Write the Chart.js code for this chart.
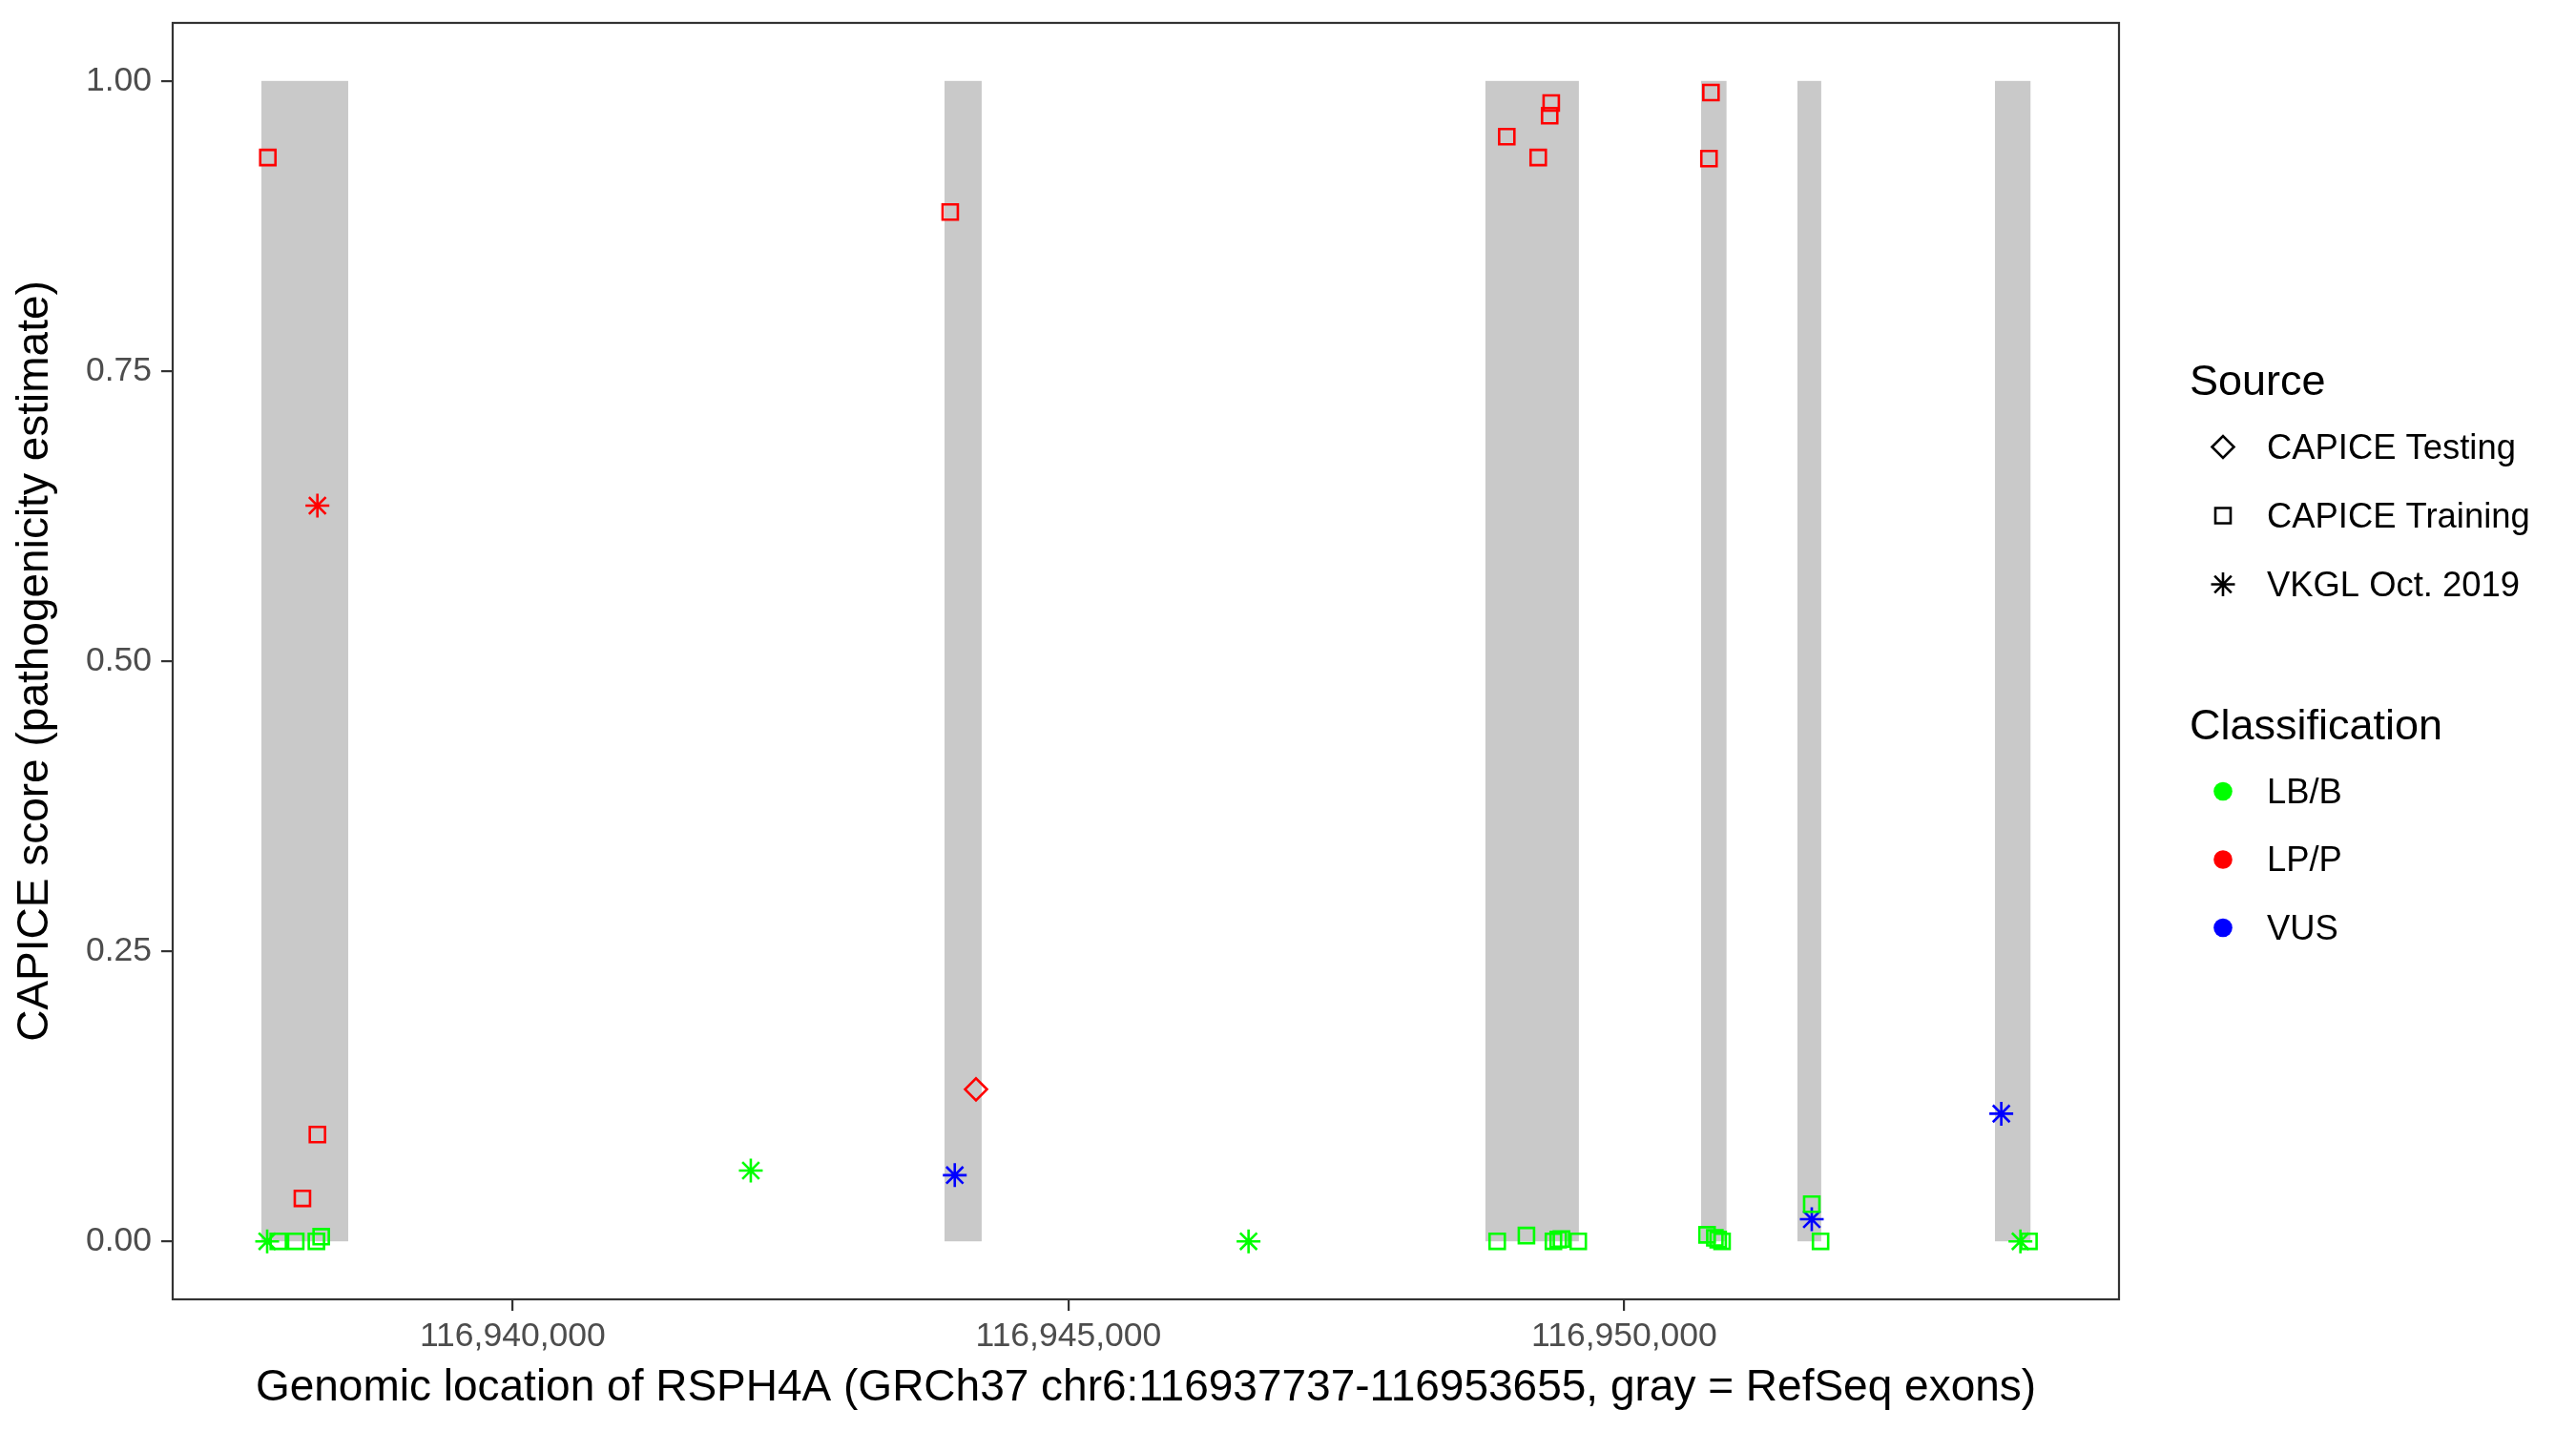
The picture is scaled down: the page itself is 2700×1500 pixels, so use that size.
<!DOCTYPE html>
<html><head><meta charset="utf-8">
<script src="https://cdn.jsdelivr.net/npm/chart.js@4.4.1/dist/chart.umd.min.js"></script>
<style>html,body{margin:0;padding:0;background:#fff;} #c{display:block;}</style>
</head><body>
<canvas id="c" width="2700" height="1500"></canvas>
<script>
// ---------------- data ----------------
const exonStart = [116937739, 116943885, 116948751, 116950691, 116951558, 116953335];
const exonEnd   = [116938520, 116944219, 116949592, 116950920, 116951772, 116953655];

const xTickValues = [116940000, 116945000, 116950000];
const yTickValues = [0, 0.25, 0.5, 0.75, 1];

const sourceNames = ['CAPICE Testing', 'CAPICE Training', 'VKGL Oct. 2019'];
const classNames = ['LB/B', 'LP/P', 'VUS'];

// CAPICE Training, LP/P
const trainLPPos   = [116937797, 116938243, 116938108, 116943936, 116949343, 116949329, 116948943, 116949226, 116950780, 116950762];
const trainLPScore = [0.934, 0.092, 0.037, 0.887, 0.981, 0.970, 0.952, 0.934, 0.990, 0.933];
// CAPICE Training, LB/B
const trainLBPos   = [116937891, 116938048, 116938234, 116938277, 116948857, 116949120, 116949363, 116949406, 116949435, 116949586, 116950745, 116950815, 116950845, 116950880, 116951687, 116951766, 116953641];
const trainLBScore = [0.000, 0.000, 0.000, 0.004, 0.000, 0.005, 0.000, 0.0015, 0.002, 0.000, 0.0056, 0.003, 0.0015, 0.000, 0.032, 0.000, 0.000];
// CAPICE Testing, LP/P
const testLPPos   = [116944168];
const testLPScore = [0.131];
// VKGL, LP/P
const vkglLPPos   = [116938243];
const vkglLPScore = [0.634];
// VKGL, LB/B
const vkglLBPos   = [116937791, 116942142, 116946620, 116953564];
const vkglLBScore = [0.000, 0.061, 0.000, 0.000];
// VKGL, VUS
const vkglVUSPos   = [116943977, 116951687, 116953392];
const vkglVUSScore = [0.057, 0.019, 0.110];

// ---------------- styles ----------------
const classColor = {'LB/B': '#00FF00', 'LP/P': '#FF0000', 'VUS': '#0000FF'};
const sourceShape = {'CAPICE Testing': 'rectRot', 'CAPICE Training': 'rect', 'VKGL Oct. 2019': 'star'};
const shapeRadius = {'rectRot': 11.5, 'rect': 11.3, 'star': 12.5};
const FONT = '"Liberation Sans", Arial, Helvetica, sans-serif';

function toPts(xs, ys) { return xs.map((x, i) => ({x: x, y: ys[i]})); }
function mkDataset(source, cls, xs, ys) {
  const shape = sourceShape[source];
  return {
    label: source + ' / ' + cls,
    data: toPts(xs, ys),
    pointStyle: shape,
    pointRadius: shapeRadius[shape],
    pointHoverRadius: shapeRadius[shape],
    pointBorderWidth: 2.6,
    pointBorderColor: classColor[cls],
    pointBackgroundColor: 'rgba(0,0,0,0)',
    showLine: false
  };
}

const datasets = [
  mkDataset('CAPICE Training', 'LP/P', trainLPPos, trainLPScore),
  mkDataset('CAPICE Training', 'LB/B', trainLBPos, trainLBScore),
  mkDataset('CAPICE Testing', 'LP/P', testLPPos, testLPScore),
  mkDataset('VKGL Oct. 2019', 'LP/P', vkglLPPos, vkglLPScore),
  mkDataset('VKGL Oct. 2019', 'LB/B', vkglLBPos, vkglLBScore),
  mkDataset('VKGL Oct. 2019', 'VUS', vkglVUSPos, vkglVUSScore)
];

// ---------------- plugins ----------------
const exonPlugin = {
  id: 'exons',
  beforeDatasetsDraw(chart) {
    const {ctx, scales: {x, y}} = chart;
    ctx.save();
    ctx.fillStyle = '#C9C9C9';
    const yTop = y.getPixelForValue(1), yBot = y.getPixelForValue(0);
    for (let i = 0; i < exonStart.length; i++) {
      const x1 = x.getPixelForValue(exonStart[i]);
      const x2 = x.getPixelForValue(exonEnd[i]);
      ctx.fillRect(x1, yTop, x2 - x1, yBot - yTop);
    }
    ctx.restore();
  }
};

function drawShape(ctx, shape, cx, cy, r) {
  ctx.beginPath();
  if (shape === 'rect') {
    const s = Math.SQRT1_2 * r;
    ctx.rect(cx - s, cy - s, 2 * s, 2 * s);
  } else if (shape === 'rectRot') {
    ctx.moveTo(cx - r, cy); ctx.lineTo(cx, cy - r); ctx.lineTo(cx + r, cy); ctx.lineTo(cx, cy + r); ctx.closePath();
  } else if (shape === 'star') {
    const d = Math.SQRT1_2 * r;
    ctx.moveTo(cx - r, cy); ctx.lineTo(cx + r, cy);
    ctx.moveTo(cx, cy - r); ctx.lineTo(cx, cy + r);
    ctx.moveTo(cx - d, cy - d); ctx.lineTo(cx + d, cy + d);
    ctx.moveTo(cx - d, cy + d); ctx.lineTo(cx + d, cy - d);
  }
  ctx.stroke();
}

const frameLegendPlugin = {
  id: 'frameLegend',
  afterDatasetsDraw(chart) {
    const {ctx, chartArea: a} = chart;
    ctx.save();
    ctx.strokeStyle = '#333333';
    ctx.lineWidth = 2.2;
    ctx.strokeRect(a.left, a.top, a.right - a.left, a.bottom - a.top);
    ctx.restore();
  },
  afterDraw(chart) {
    const ctx = chart.ctx;
    ctx.save();
    const titleX = 2295, keyX = 2330, textX = 2376;
    ctx.textBaseline = 'middle';
    ctx.textAlign = 'left';
    ctx.fillStyle = '#000';
    ctx.font = '45px ' + FONT;
    ctx.fillText('Source', titleX, 402);
    ctx.fillText('Classification', titleX, 763);
    ctx.font = '36.4px ' + FONT;
    const srcY = [468.5, 540.5, 612.5];
    sourceNames.forEach((s, i) => {
      ctx.strokeStyle = '#000';
      ctx.lineWidth = 2.6;
      drawShape(ctx, sourceShape[s], keyX, srcY[i], shapeRadius[sourceShape[s]]);
      ctx.fillStyle = '#000';
      ctx.fillText(s, textX, srcY[i] + 2);
    });
    const clsY = [829.5, 901, 972.5];
    classNames.forEach((c, i) => {
      ctx.fillStyle = classColor[c];
      ctx.beginPath();
      ctx.arc(keyX, clsY[i], 9.8, 0, Math.PI * 2);
      ctx.fill();
      ctx.fillStyle = '#000';
      ctx.fillText(c, textX, clsY[i] + 2);
    });
    ctx.restore();
  }
};

// ---------------- chart ----------------
new Chart(document.getElementById('c'), {
  type: 'scatter',
  data: {datasets: datasets},
  plugins: [exonPlugin, frameLegendPlugin],
  options: {
    responsive: false,
    animation: false,
    devicePixelRatio: 1,
    layout: {padding: {left: 0, top: 24, right: 479, bottom: 0}},
    plugins: {legend: {display: false}, tooltip: {enabled: false}},
    scales: {
      x: {
        type: 'linear',
        min: 116936941,
        max: 116954451,
        afterBuildTicks(scale) { scale.ticks = xTickValues.map(v => ({value: v})); },
        afterFit(scale) { scale.height = 138; scale.paddingLeft = 0; scale.paddingRight = 0; },
        grid: {drawOnChartArea: false, drawTicks: true, tickLength: 12, color: '#333333', lineWidth: 2.2},
        border: {display: false},
        ticks: {
          padding: 6,
          color: '#4D4D4D',
          font: {family: FONT, size: 35.5},
          maxRotation: 0,
          callback: v => Number(v).toLocaleString('en-US')
        },
        title: {
          display: true,
          text: 'Genomic location of RSPH4A (GRCh37 chr6:116937737-116953655, gray = RefSeq exons)',
          color: '#000',
          font: {family: FONT, size: 46},
          padding: {top: 0, bottom: 17}
        }
      },
      y: {
        type: 'linear',
        min: -0.05,
        max: 1.05,
        afterBuildTicks(scale) { scale.ticks = yTickValues.map(v => ({value: v})); },
        afterFit(scale) { scale.width = 181; scale.paddingTop = 0; scale.paddingBottom = 0; },
        grid: {drawOnChartArea: false, drawTicks: true, tickLength: 12, color: '#333333', lineWidth: 2.2},
        border: {display: false},
        ticks: {
          padding: 10,
          color: '#4D4D4D',
          font: {family: FONT, size: 35.5},
          callback: v => Number(v).toFixed(2)
        },
        title: {
          display: true,
          text: 'CAPICE score (pathogenicity estimate)',
          color: '#000',
          font: {family: FONT, size: 46},
          padding: {top: 10, bottom: 0}
        }
      }
    }
  }
});
</script>
</body></html>
